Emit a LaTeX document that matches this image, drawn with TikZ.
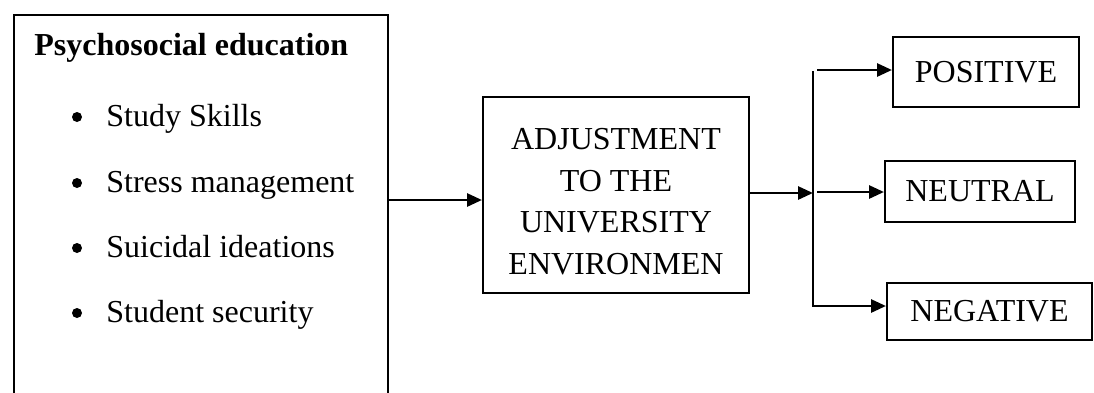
\documentclass[tikz,border=0pt]{standalone}
\usepackage{fontspec}
\setmainfont{Liberation Serif}
\usetikzlibrary{arrows.meta}
\begin{document}
\begin{tikzpicture}[x=0.5pt,y=-0.5pt,
  box/.style={draw,line width=1pt,inner sep=0pt},
  txt/.style={inner sep=0pt,font=\fontsize{16}{20.75}\selectfont},
  dot/.style={circle,fill,inner sep=0pt,minimum size=5pt},
  arr/.style={line width=1.4pt,-{Triangle[length=7.5pt,width=6.5pt]}},
  ln/.style={line width=1.1pt}]
\useasboundingbox (0,0) rectangle (1094,392);
% left box (bottom edge lies below the picture)
\node[box,anchor=north west,minimum width=187pt,minimum height=200pt] (lbox) at (13,14) {};
\node[txt,anchor=base west,font=\fontsize{16}{20.75}\selectfont\bfseries] (title) at (34,55) {Psychosocial education};
\node[dot] (b1) at (77,117) {};
\node[txt,anchor=base west] (i1) at (106,126) {Study Skills};
\node[dot] (b2) at (77,183) {};
\node[txt,anchor=base west] (i2) at (106,192) {Stress management};
\node[dot] (b3) at (77,248) {};
\node[txt,anchor=base west] (i3) at (106,257) {Suicidal ideations};
\node[dot] (b4) at (77,313) {};
\node[txt,anchor=base west] (i4) at (106,322) {Student security};
% middle box
\node[box,minimum width=133pt,minimum height=98pt] (mid) at (616,195) {};
\node[txt,align=center] (midtxt) at (616,201.5) {ADJUSTMENT\\TO THE\\UNIVERSITY\\ENVIRONMEN};
% outcome boxes
\node[box,txt,draw,line width=1pt,minimum width=93pt,minimum height=35pt] (pos) at (986,72) {POSITIVE};
\node[box,txt,draw,line width=1pt,minimum width=95pt,minimum height=30.5pt] (neu) at (980,191.5) {NEUTRAL};
\node[box,txt,draw,line width=1pt,minimum width=102.5pt,minimum height=28.5pt] (neg) at (989.5,311.5) {NEGATIVE};
% connectors
\coordinate (a1) at (387,200);
\draw[arr] (a1) -- (a1 -| mid.west);
\coordinate (a2) at (749,193);
\coordinate (jx) at (813,193);
\draw[arr] (a2) -- (jx);
\coordinate (vt) at (813,71);
\coordinate (vb) at (813,307);
\draw[ln] (vt) -- (vb);
\coordinate (bt) at (817,70);
\coordinate (bm) at (817,192);
\coordinate (bb) at (813,306);
\draw[arr] (bt) -- (bt -| pos.west);
\draw[arr] (bm) -- (bm -| neu.west);
\draw[arr] (bb) -- (bb -| neg.west);
\end{tikzpicture}
\end{document}
